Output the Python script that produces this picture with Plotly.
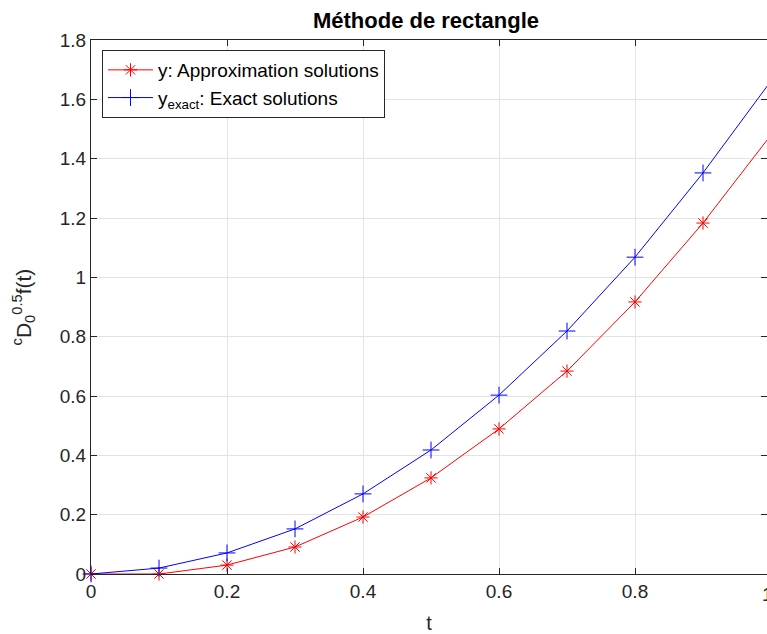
import plotly.graph_objects as go

# Time grid and the two solution curves
t = [0.0, 0.1, 0.2, 0.3, 0.4, 0.5, 0.6, 0.7, 0.8, 0.9, 1.0]
y_approx = [0.0, 0.0, 0.030, 0.091, 0.192, 0.324, 0.489, 0.684, 0.917, 1.183, 1.480]
y_exact = [0.0, 0.020, 0.071, 0.152, 0.270, 0.418, 0.603, 0.819, 1.068, 1.352, 1.662]

x_ticks = [0, 0.2, 0.4, 0.6, 0.8]
x_tick_text = ["0", "0.2", "0.4", "0.6", "0.8"]
y_ticks = [0, 0.2, 0.4, 0.6, 0.8, 1.0, 1.2, 1.4, 1.6, 1.8]
y_tick_text = ["0", "0.2", "0.4", "0.6", "0.8", "1", "1.2", "1.4", "1.6", "1.8"]

FONT = "Liberation Sans, Arial, sans-serif"
AX = "#262626"

fig = go.Figure()
fig.add_trace(go.Scatter(
    x=t, y=y_approx, mode="lines+markers",
    name="y: Approximation solutions",
    line=dict(color="#ff0000", width=1),
    marker=dict(symbol="asterisk-open", size=11, color="#ff0000",
                line=dict(color="#ff0000", width=1)),
    cliponaxis=False,
))
fig.add_trace(go.Scatter(
    x=t, y=y_exact, mode="lines+markers",
    name="y<sub>exact</sub>: Exact solutions",
    line=dict(color="#0000ff", width=1),
    marker=dict(symbol="cross-thin-open", size=12, color="#0000ff",
                line=dict(color="#0000ff", width=1)),
    cliponaxis=False,
))

W, H = 767, 634
L, T, B, R = 91, 40, 60, 0
px_per_unit = 680.0
x_max = (W - L - R) / px_per_unit

fig.update_layout(
    width=W, height=H,
    margin=dict(l=L, r=R, t=T, b=B, pad=0),
    paper_bgcolor="white", plot_bgcolor="white",
    font=dict(family=FONT, color=AX, size=19),
    title=dict(text="<b>Méthode de rectangle</b>", x=(426 - L) / (W - L),
               xanchor="center", xref="paper", y=1 - 20 / H, yanchor="middle",
               font=dict(size=22, color="#000000")),
    showlegend=True,
    legend=dict(x=(102 - L) / (W - L), y=1 - 10 / 534, xanchor="left", yanchor="top",
                bgcolor="white", bordercolor=AX, borderwidth=1,
                font=dict(size=19, color="#000000"), tracegroupgap=0,
                itemwidth=45),
    xaxis=dict(range=[0, x_max], tickvals=x_ticks, ticktext=x_tick_text,
               showgrid=True, gridcolor="#e3e3e3", gridwidth=1,
               showline=True, linecolor=AX, linewidth=1, mirror="ticks",
               ticks="inside", ticklen=6, tickcolor=AX, zeroline=False,
               tickfont=dict(size=19, color=AX),
               title=dict(text="t", font=dict(size=20, color=AX), standoff=18)),
    yaxis=dict(range=[0, 1.8], tickvals=y_ticks, ticktext=y_tick_text,
               showgrid=True, gridcolor="#e3e3e3", gridwidth=1,
               showline=True, linecolor=AX, linewidth=1, mirror="ticks",
               ticks="inside", ticklen=6, tickcolor=AX, zeroline=False,
               tickfont=dict(size=19, color=AX),
               title=dict(text="<sup>c</sup>D<sub>0</sub><sup>0.5</sup>f(t)",
                          font=dict(size=21, color=AX), standoff=22)),
)

# Tick label at t = 1, sitting on the right edge of the page
fig.add_annotation(x=1.0, xref="x domain", y=0, yref="paper",
                   text="1", showarrow=False, xanchor="left", yanchor="top",
                   xshift=(px_per_unit - (W - L - R)) - 11, yshift=-8,
                   font=dict(size=19, color=AX))

fig.write_html("out.html")
